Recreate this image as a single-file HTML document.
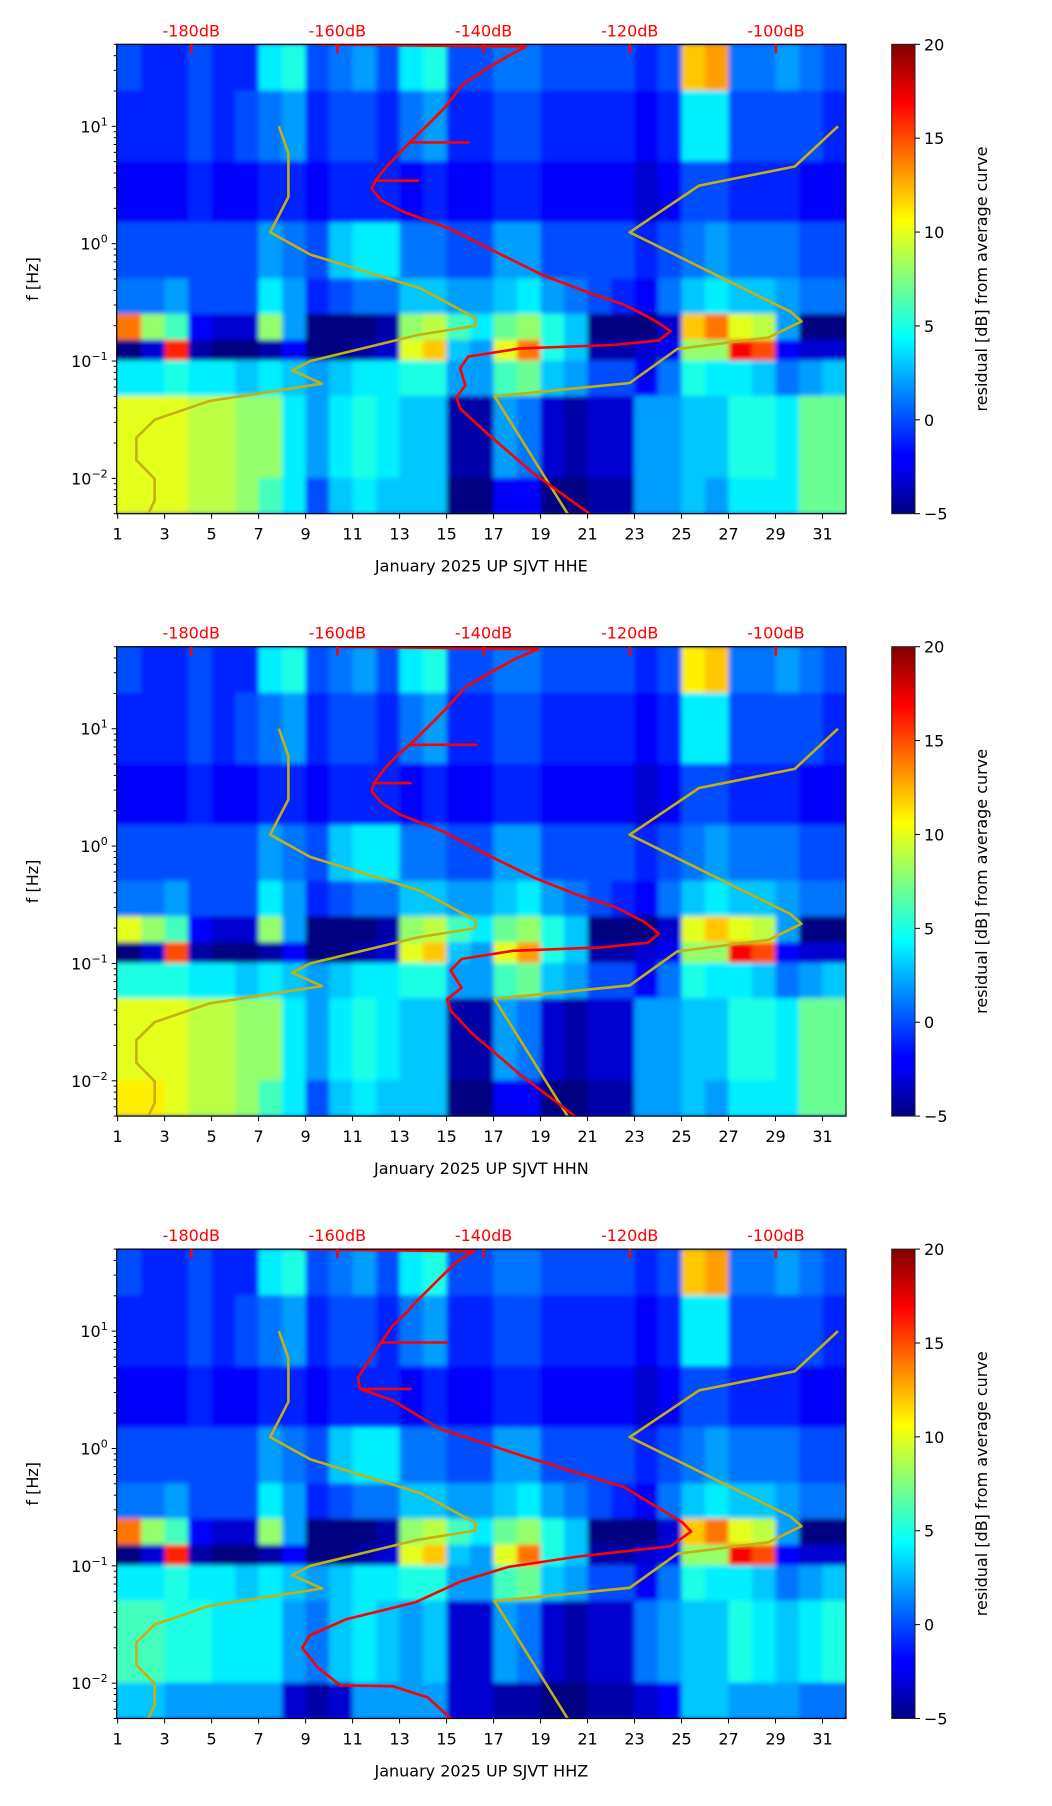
<!DOCTYPE html>
<html><head><meta charset="utf-8">
<style>
html,body{margin:0;padding:0;background:#fff;}
svg{display:block;font-family:"DejaVu Sans","Liberation Sans",sans-serif;}
</style></head>
<body>
<svg id="chart" width="1052" height="1806" viewBox="0 0 1052 1806" xmlns="http://www.w3.org/2000/svg">
<defs>
<filter id="soft" x="-5%" y="-5%" width="110%" height="110%"><feGaussianBlur stdDeviation="2.5"/></filter>
<linearGradient id="jetgrad" x1="0" y1="1" x2="0" y2="0">
<stop offset="0" stop-color="#000080"/><stop offset="0.11" stop-color="#0000ff"/><stop offset="0.125" stop-color="#0000ff"/>
<stop offset="0.375" stop-color="#00ffff"/><stop offset="0.625" stop-color="#ffff00"/><stop offset="0.875" stop-color="#ff0000"/><stop offset="1" stop-color="#800000"/>
</linearGradient>
</defs>
</svg>
<script>
// ---- data ----
const dayTicks = [1,3,5,7,9,11,13,15,17,19,21,23,25,27,29,31];
const dbTicks = [-180,-160,-140,-120,-100];
const cbTicks = [-5,0,5,10,15,20];
const bandEdges = [50,20,5,1.5,0.5,0.25,0.15,0.1,0.05,0.01,0.005];
const panelLabels = ["January 2025 UP SJVT  HHE","January 2025 UP SJVT  HHN","January 2025 UP SJVT  HHZ"];

const residualHHE = [
[0,-1,-1,0,-1,-1,4,5,0,1,2,0,4,5,0,0,1,1,0,0,0,0,-1,0,12,13,1,1,2,1,0],
[-1,-1,-1,0,-1,0,1,2,-1,0,0,-1,1,2,-1,-1,0,0,-1,-1,-1,-1,-2,-1,4,4,0,0,0,0,-1],
[-2,-2,-2,-1,-2,-2,-1,-1,-2,-1,-1,-1,-2,-1,-2,-2,-1,-1,-2,-2,-2,-2,-3,-2,0,0,-1,-1,-1,-2,-2],
[0,0,0,0,0,0,2,1,0,3,4,4,1,1,0,0,2,2,0,0,0,0,-1,0,1,2,1,1,1,0,0],
[1,1,2,0,0,0,4,2,-1,0,1,1,3,3,2,2,3,4,2,1,0,-1,-2,1,3,4,3,3,2,1,1],
[14,8,6,-2,-3,-3,8,2,-5,-5,-5,-4,8,9,6,4,7,8,5,3,-5,-5,-5,-3,12,14,10,9,2,-5,-5],
[-5,-3,16,-4,-5,-5,-4,-2,-5,-5,-4,-3,10,12,3,2,10,14,5,3,-4,-4,-3,-2,8,8,17,15,-2,-3,-3],
[4,4,5,4,4,3,4,3,2,3,4,4,5,5,2,2,6,7,3,2,0,0,-2,1,5,4,4,3,1,2,3],
[10,10,10,9,9,8,8,4,2,4,5,4,3,3,-4,-4,2,1,-3,-4,-3,-3,2,2,3,3,5,5,4,7,7],
[10,10,10,9,9,8,6,4,0,3,4,3,3,3,-5,-5,-2,-2,-5,-5,-4,-4,2,2,3,2,4,4,4,7,7]];
const residualHHN = [
[0,-1,-1,0,-1,-1,4,5,0,1,2,0,4,5,0,0,1,1,0,0,0,0,-1,0,11,12,1,1,2,1,0],
[-1,-1,-1,0,-1,0,1,2,-1,0,0,-1,1,2,-1,-1,0,0,-1,-1,-1,-1,-2,-1,4,4,0,0,0,0,-1],
[-2,-2,-2,-1,-2,-2,-1,-1,-2,-1,-1,-1,-2,-1,-2,-2,-1,-1,-2,-2,-2,-2,-3,-2,0,0,-1,-1,-1,-2,-2],
[0,0,0,0,0,0,2,1,0,3,4,4,1,1,0,0,2,2,0,0,0,0,-1,0,1,2,1,1,1,0,0],
[1,1,2,0,0,0,4,2,-1,0,1,1,3,3,2,2,3,4,2,1,0,-1,-2,1,3,4,3,3,2,1,1],
[10,8,6,-2,-3,-3,8,2,-5,-5,-5,-4,8,9,6,4,7,8,5,3,-5,-5,-5,-3,10,12,10,9,2,-5,-5],
[-5,-3,15,-4,-5,-5,-4,-2,-5,-5,-4,-3,10,12,3,2,10,13,5,3,-4,-4,-3,-2,8,8,17,15,-2,-3,-3],
[5,5,5,4,4,3,4,3,2,3,4,4,5,5,2,2,6,7,3,2,0,0,-2,1,5,4,4,3,1,2,3],
[10,10,10,9,9,8,8,4,2,4,5,4,3,3,-4,-4,2,1,-3,-4,-3,-3,2,2,3,3,5,5,4,7,7],
[11,11,10,9,9,8,6,4,0,3,4,3,3,3,-5,-5,-2,-2,-5,-5,-4,-4,2,2,3,2,4,4,4,7,7]];
const residualHHZ = [
[0,-1,-1,0,-1,-1,4,5,0,1,2,0,4,5,0,0,1,1,0,0,0,0,-1,0,12,13,1,1,2,1,0],
[-1,-1,-1,0,-1,0,1,2,-1,0,0,-1,1,2,-1,-1,0,0,-1,-1,-1,-1,-2,-1,4,4,0,0,0,0,-1],
[-2,-2,-2,-1,-2,-2,-1,-1,-2,-1,-1,-1,-2,-1,-2,-2,-1,-1,-2,-2,-2,-2,-3,-2,0,0,-1,-1,-1,-2,-2],
[0,0,0,0,0,0,2,1,0,3,4,4,1,1,0,0,2,2,0,0,0,0,-1,0,1,2,1,1,1,0,0],
[1,1,2,0,0,0,4,2,-1,0,1,1,3,3,2,2,3,4,2,1,0,-1,-2,1,3,4,3,3,2,1,1],
[14,8,6,-2,-3,-3,8,2,-5,-5,-5,-4,8,9,6,4,7,8,5,3,-5,-5,-5,-3,12,14,10,9,2,-5,-5],
[-5,-3,16,-4,-5,-5,-4,-2,-5,-5,-4,-3,10,12,3,2,10,14,5,3,-4,-4,-3,-2,8,8,17,15,-2,-3,-3],
[4,4,5,4,4,3,4,3,2,3,4,4,5,5,2,2,6,7,3,2,0,0,-2,1,5,4,4,3,1,2,3],
[6,6,5,5,4,4,4,2,1,3,4,3,2,3,-3,-3,2,1,-3,-4,-3,-3,1,2,3,3,5,4,3,4,5],
[3,3,2,2,2,2,2,-3,-4,-3,2,2,2,2,-3,-3,-4,-4,-5,-5,-4,-4,-3,-2,3,3,2,2,2,1,1]];

// average PSD curves (freq Hz, dB)
const avgFreqHHE = [50,47.8,39.9,30.3,22.6,14.4,10.2,7.3,7.3,7.3,5.8,4.6,3.44,3.44,3.44,2.93,2.34,1.86,1.33,0.843,0.536,0.381,0.303,0.226,0.18,0.15,0.137,0.128,0.109,0.087,0.062,0.0494,0.0394,0.0251,0.0113,0.005];
const avgDbHHE   = [-163,-134.2,-136.6,-139.8,-142.9,-145.3,-147.7,-150.1,-142,-150.1,-151.6,-153.2,-154.8,-149,-154.8,-155.3,-154.0,-150.9,-144.5,-138.2,-131.8,-125.5,-120.8,-116.8,-114.4,-116.0,-122.3,-135.0,-142.1,-143.2,-142.5,-143.7,-143.2,-139.8,-133.4,-125.5];
const avgFreqHHN = [50,47.8,39.9,30.3,22.6,14.4,10.2,7.3,7.3,7.3,5.8,4.6,3.44,3.44,3.44,2.93,2.34,1.86,1.33,0.843,0.536,0.381,0.303,0.226,0.18,0.15,0.137,0.128,0.109,0.087,0.062,0.0494,0.0394,0.0251,0.0113,0.005];
const avgDbHHN   = [-160,-132.5,-135.5,-139.0,-142.5,-145.3,-147.7,-150.1,-141,-150.1,-152.0,-153.5,-155.0,-150,-155.0,-155.3,-154.0,-151.5,-145.5,-139.5,-133.0,-127.0,-122.0,-118.0,-116.0,-117.5,-124.0,-136.0,-143.0,-144.5,-143.0,-145.0,-144.5,-141.5,-135.0,-127.5];
const avgFreqHHZ = [50,47.8,38.8,27.8,17.6,14.4,11.2,8.0,8.0,8.0,5.7,4.0,3.22,3.22,3.22,2.57,1.47,0.84,0.47,0.235,0.196,0.147,0.12,0.098,0.074,0.049,0.035,0.0255,0.02,0.0136,0.0096,0.0094,0.0076,0.005];
const avgDbHHZ   = [-165,-141.3,-143.7,-146.1,-149.3,-150.5,-152.4,-154.0,-145,-154.0,-155.6,-157.2,-156.9,-150,-156.9,-152.4,-146.0,-134.0,-120.8,-112.8,-111.6,-114.4,-127.0,-136.6,-143.0,-149.3,-158.8,-163.8,-164.8,-162.7,-159.6,-152.4,-147.7,-144.5];

// Peterson noise models (period s, dB)
const nlnmPeriod = [0.1,0.17,0.4,0.8,1.24,2.4,4.3,5,6,10,12,15.6,21.9,31.6,45,70,101,154,328];
const nlnmDb = [-168.0,-166.7,-166.7,-169.2,-163.7,-148.65,-141.1,-141.1,-149.0,-163.7,-166.2,-162.1,-177.5,-185.0,-187.5,-187.5,-185.0,-185.0,-187.5];
const nhnmPeriod = [0.1,0.22,0.32,0.8,3.8,4.6,6.3,7.9,15.4,20,354.8];
const nhnmDb = [-91.5,-97.4,-110.5,-120.0,-98.0,-96.5,-101.0,-113.5,-120.0,-138.5,-126.0];

const panels = [
 {top:44.3, label:panelLabels[0], grid:residualHHE, af:avgFreqHHE, ad:avgDbHHE, key:'hhe'},
 {top:646.7, label:panelLabels[1], grid:residualHHN, af:avgFreqHHN, ad:avgDbHHN, key:'hhn'},
 {top:1249.1, label:panelLabels[2], grid:residualHHZ, af:avgFreqHHZ, ad:avgDbHHZ, key:'hhz'}
];

// ---- layout ----
const NS = "http://www.w3.org/2000/svg";
const svg = document.getElementById('chart');
const L = 116.7, R = 846, H = 469.4;
const D0 = 0.96, D1 = 32.0, DB0 = -190.2, DB1 = -90.4, F0 = 0.005, F1 = 50;
const CBL = 891.7, CBR = 915;
function xDay(d){ return L + (d - D0) / (D1 - D0) * (R - L); }
function xDb(v){ return L + (v - DB0) / (DB1 - DB0) * (R - L); }
function yF(top, f){ return top + (Math.log10(F1) - Math.log10(f)) / (Math.log10(F1) - Math.log10(F0)) * H; }
function jet(v){
  const t = Math.max(0, Math.min(1, (v + 5) / 25));
  const c = x => Math.round(255 * Math.max(0, Math.min(1, x)));
  return `rgb(${c(1.5 - Math.abs(4*t - 3))},${c(1.5 - Math.abs(4*t - 2))},${c(1.5 - Math.abs(4*t - 1))})`;
}
function mk(tag, attrs, parent){
  const e = document.createElementNS(NS, tag);
  for (const k in attrs) e.setAttribute(k, attrs[k]);
  (parent || svg).appendChild(e);
  return e;
}

panels.forEach((p, pi) => {
  const top = p.top, bot = top + H;
  const g = mk('g', {});
  
  
  const clip = mk('clipPath', {id: 'clip' + pi}, g);
  mk('rect', {x: L, y: top, width: R - L, height: H}, clip);

  // heatmap
  const hm = mk('g', {'clip-path': `url(#clip${pi})`}, g);
  
  
  mk('rect', {x: L, y: top, width: R - L, height: H, fill: '#0030e0'}, hm);
  const cells = mk('g', {filter: 'url(#soft)'}, hm);
  p.grid.forEach((row, bi) => {
    const y0 = yF(top, bandEdges[bi]), y1 = yF(top, bandEdges[bi + 1]);
    row.forEach((v, di) => {
      const d = 1 + di;
      const x0 = xDay(d === 1 ? D0 - 0.2 : d), x1 = xDay(d === 31 ? D1 + 0.2 : d + 1);
      const r = mk('rect', {x: x0, y: y0 - 0.5, width: x1 - x0 + 0.5, height: y1 - y0 + 1, fill: jet(v)}, cells);
      
      
    });
  });

  // noise models
  const lines = mk('g', {'clip-path': `url(#clip${pi})`, fill: 'none'}, g);
  [[nlnmPeriod, nlnmDb, 'nlnm-curve'], [nhnmPeriod, nhnmDb, 'nhnm-curve']].forEach(([per, db, nm]) => {
    const pts = per.map((P, i) => `${xDb(db[i]).toFixed(1)},${yF(top, 1 / P).toFixed(1)}`).join(' ');
    const pl = mk('polyline', {points: pts, stroke: '#c4b012', 'stroke-width': 2.6, 'stroke-linejoin': 'round'}, lines);
    
    
  });
  const apts = p.af.map((f, i) => `${xDb(p.ad[i]).toFixed(1)},${yF(top, f).toFixed(1)}`).join(' ');
  const al = mk('polyline', {points: apts, stroke: '#ff0000', 'stroke-width': 2.6, 'stroke-linejoin': 'round'}, lines);
  
  

  // frame
  const fr = mk('rect', {x: L, y: top, width: R - L, height: H, fill: 'none', stroke: '#000', 'stroke-width': 1.2}, g);
  
  

  // x ticks
  dayTicks.forEach(d => {
    const x = xDay(d);
    mk('line', {x1: x, y1: bot, x2: x, y2: bot + 5, stroke: '#000', 'stroke-width': 1}, g);
    const t = mk('text', {x: x, y: bot + 26, 'font-size': 16, 'text-anchor': 'middle', fill: '#000'}, g);
    t.textContent = d;
    
    
  });
  const xl = mk('text', {x: (L + R) / 2, y: bot + 58, 'font-size': 16, 'text-anchor': 'middle', fill: '#000'}, g);
  xl.textContent = p.label;
  
  

  // top dB axis
  dbTicks.forEach(v => {
    const x = xDb(v);
    mk('line', {x1: x, y1: top, x2: x, y2: top + 9, stroke: '#ff0000', 'stroke-width': 2.5}, g);
    const t = mk('text', {x: x, y: top - 8, 'font-size': 16, 'text-anchor': 'middle', fill: '#ff0000'}, g);
    t.textContent = v + 'dB';
    
    
  });

  // y ticks (log)
  for (let e = -3; e <= 1; e++) {
    for (let m = 1; m <= 9; m++) {
      const f = m * Math.pow(10, e);
      if (f < F0 - 1e-9 || f > F1 + 1e-9) continue;
      const y = yF(top, f);
      mk('line', {x1: L - (m === 1 ? 5 : 3), y1: y, x2: L, y2: y, stroke: '#000', 'stroke-width': 1}, g);
      if (m === 1) {
        const t = mk('text', {x: L - 9, y: y + 6, 'font-size': 16, 'text-anchor': 'end', fill: '#000'}, g);
        
        
        const b = mk('tspan', {}, t); b.textContent = '10';
        const s = mk('tspan', {dy: -7, 'font-size': 11}, t); s.textContent = (e < 0 ? '\u2212' : '') + Math.abs(e);
      }
    }
  }
  const yl = mk('text', {x: 0, y: 0, 'font-size': 16, 'text-anchor': 'middle', fill: '#000', transform: `translate(38,${top + H / 2}) rotate(-90)`}, g);
  yl.textContent = 'f [Hz]';
  
  

  // colorbar
  const cb = mk('rect', {x: CBL, y: top, width: CBR - CBL, height: H, fill: 'url(#jetgrad)', stroke: '#222', 'stroke-width': 1}, g);
  
  
  cbTicks.forEach(v => {
    const y = bot - (v + 5) / 25 * H;
    mk('line', {x1: CBR, y1: y, x2: CBR + 5, y2: y, stroke: '#000', 'stroke-width': 1}, g);
    const t = mk('text', {x: CBR + 9, y: y + 6, 'font-size': 16, fill: '#000'}, g);
    t.textContent = v < 0 ? '\u2212' + Math.abs(v) : v;
    
    
  });
  const cl = mk('text', {x: 0, y: 0, 'font-size': 16, 'text-anchor': 'middle', fill: '#000', transform: `translate(987,${top + H / 2}) rotate(-90)`}, g);
  cl.textContent = 'residual [dB] from average curve';
  
  
});
</script>
</body></html>
